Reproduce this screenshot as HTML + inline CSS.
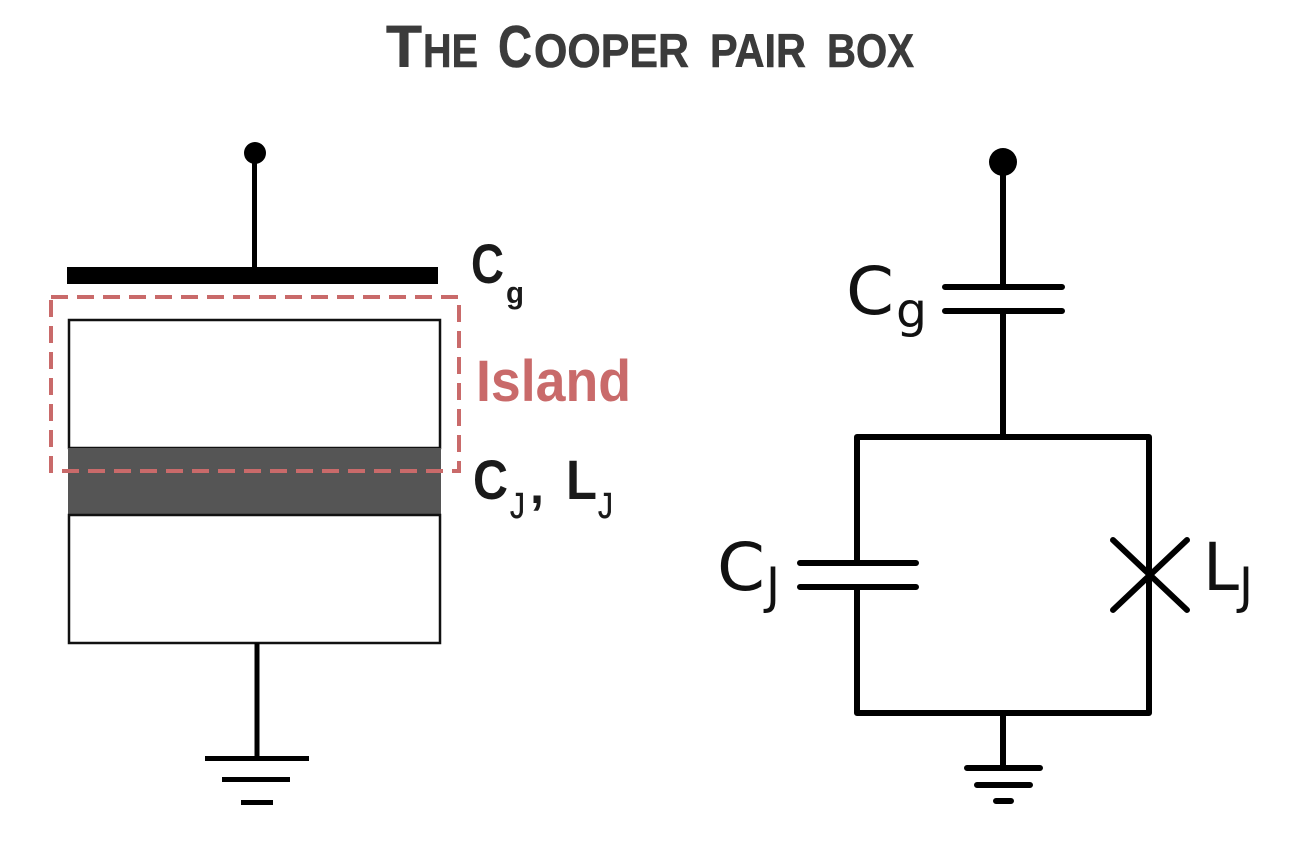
<!DOCTYPE html>
<html>
<head>
<meta charset="utf-8">
<style>
html,body{margin:0;padding:0;background:#fff;width:1290px;height:846px;overflow:hidden}
svg{display:block}
.t{font-family:"Liberation Sans",sans-serif;font-weight:bold;fill:#3b3b3b;stroke:#3b3b3b;stroke-width:.6}
.b{font-family:"Liberation Sans",sans-serif;font-weight:bold;fill:#1a1a1a}
.s{font-family:"Liberation Sans",sans-serif;font-weight:normal;fill:#1a1a1a;stroke:#1a1a1a;stroke-width:.5}
.d{font-family:"DejaVu Sans",sans-serif;fill:#111}
</style>
</head>
<body>
<svg width="1290" height="846" viewBox="0 0 1290 846" xmlns="http://www.w3.org/2000/svg">
<rect width="1290" height="846" fill="#fff"/>

<!-- Title -->
<text class="t" x="386" y="67" font-size="59" textLength="36" lengthAdjust="spacingAndGlyphs">T</text>
<text class="t" x="423" y="67" font-size="47" textLength="55" lengthAdjust="spacingAndGlyphs">HE</text>
<text class="t" x="498" y="67" font-size="59" textLength="34" lengthAdjust="spacingAndGlyphs">C</text>
<text class="t" x="534" y="67" font-size="47" textLength="155" lengthAdjust="spacingAndGlyphs">OOPER</text>
<text class="t" x="710" y="67" font-size="47" textLength="96" lengthAdjust="spacingAndGlyphs">PAIR</text>
<text class="t" x="827" y="67" font-size="47" textLength="87" lengthAdjust="spacingAndGlyphs">BOX</text>

<!-- Left: physical device -->
<ellipse cx="255" cy="153" rx="11" ry="11" fill="#000"/>
<rect x="252" y="153" width="5" height="116" fill="#000"/>
<rect x="67" y="267" width="371" height="17" fill="#000"/>
<rect x="69" y="320" width="371" height="128" fill="#fff" stroke="#111" stroke-width="2.5"/>
<rect x="68" y="448" width="373" height="67" fill="#555"/>
<rect x="69" y="515" width="371" height="128" fill="#fff" stroke="#111" stroke-width="2.5"/>
<rect x="51" y="297" width="408" height="174" fill="none" stroke="#c96a6a" stroke-width="4" stroke-dasharray="17 9"/>
<rect x="254.500" y="643" width="5" height="115" fill="#000"/>
<rect x="205" y="756" width="104" height="5" fill="#000"/>
<rect x="222" y="777" width="68" height="5" fill="#000"/>
<rect x="241" y="800" width="32" height="5" fill="#000"/>

<text class="b" x="471" y="283" font-size="56" textLength="33" lengthAdjust="spacingAndGlyphs">C</text>
<text class="b" x="506" y="303" font-size="31" textLength="18" lengthAdjust="spacingAndGlyphs">g</text>
<text x="476" y="401" font-family="Liberation Sans, sans-serif" font-weight="bold" font-size="58" fill="#c96a6a" textLength="155" lengthAdjust="spacingAndGlyphs">Island</text>
<text class="b" x="473" y="499" font-size="56" textLength="35" lengthAdjust="spacingAndGlyphs">C</text>
<text class="s" x="510" y="518" font-size="36" textLength="15" lengthAdjust="spacingAndGlyphs">J</text>
<text class="b" x="530" y="503" font-size="50" textLength="14" lengthAdjust="spacingAndGlyphs">,</text>
<text class="b" x="566" y="499" font-size="56" textLength="31" lengthAdjust="spacingAndGlyphs">L</text>
<text class="s" x="598" y="518" font-size="36" textLength="15" lengthAdjust="spacingAndGlyphs">J</text>

<!-- Right: circuit -->
<g stroke="#000" stroke-width="6" fill="none" stroke-linecap="round" stroke-linejoin="round">
  <path d="M1003 162V287M1003 311V437"/>
  <path d="M945 287H1062M945 311H1062"/>
  <path d="M857 563V437H1149V713H857V587"/>
  <path d="M800 563H916M800 587H916"/>
  <path d="M1113 540L1187 610M1187 540L1113 610"/>
  <path d="M1003 713V768"/>
  <path d="M967 768H1040M977 785H1030M996 801H1011"/>
</g>
<circle cx="1003" cy="162" r="14" fill="#000"/>

<text class="d" x="846" y="314" font-size="66" textLength="48" lengthAdjust="spacingAndGlyphs">C</text>
<text class="d" x="896" y="327" font-size="48" textLength="31" lengthAdjust="spacingAndGlyphs">g</text>
<text class="d" x="717" y="590" font-size="66" textLength="48" lengthAdjust="spacingAndGlyphs">C</text>
<text class="d" x="766" y="603" font-size="50" textLength="14" lengthAdjust="spacingAndGlyphs">J</text>
<text class="d" x="1203" y="590" font-size="66" textLength="36" lengthAdjust="spacingAndGlyphs">L</text>
<text class="d" x="1239" y="603" font-size="50" textLength="14" lengthAdjust="spacingAndGlyphs">J</text>
</svg>
</body>
</html>
